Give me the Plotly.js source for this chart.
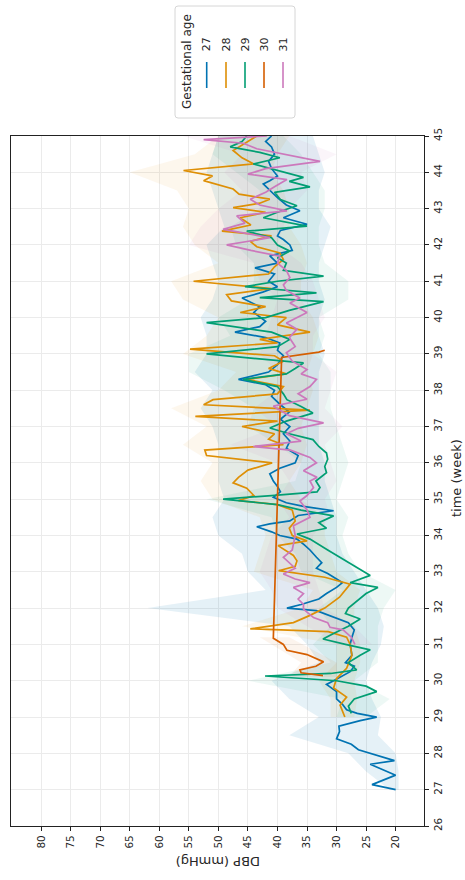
<!DOCTYPE html>
<html>
<head>
<meta charset="utf-8">
<script src="https://cdn.plot.ly/plotly-3.0.1.min.js"></script>
<style>
  html, body { margin: 0; padding: 0; background: #ffffff; }
  #chart { width: 465px; height: 880px; }
</style>
</head>
<body>
<div id="chart"></div>
<script>
// Diastolic blood pressure over time, one line per gestational age group,
// drawn sideways: time runs up the right-hand axis, DBP runs right-to-left along the bottom.

const groups = ['27', '28', '29', '30', '31'];
const colors = ['#0173b2', '#de8f05', '#029e73', '#d55e00', '#cc78bc'];

const dbpTicks = [20, 25, 30, 35, 40, 45, 50, 55, 60, 65, 70, 75, 80];
const weekTicks = [26, 27, 28, 29, 30, 31, 32, 33, 34, 35, 36, 37, 38, 39, 40, 41, 42, 43, 44, 45];

// ---- mean DBP per group ----
const week27 = [27.0,27.14,27.4,27.7,27.8,28.1,28.25,28.4,28.6,28.75,28.9,29.0,29.1,29.2,29.35,29.5,29.7,29.9,30.0,30.25,30.4,30.5,30.7,31.0,31.2,31.4,31.6,31.8,31.93,32.0,32.1,32.25,32.4,32.57,32.7,32.8,32.95,33.1,33.25,33.4,33.6,33.75,33.9,34.0,34.1,34.24,34.32,34.4,34.55,34.68,34.8,34.9,35.05,35.2,35.35,35.5,35.7,35.85,36.0,36.2,36.4,36.6,36.8,37.0,37.2,37.4,37.6,37.83,38.0,38.15,38.3,38.5,38.7,38.95,39.1,39.3,39.45,39.6,39.75,39.9,40.14,40.3,40.54,40.7,40.85,41.0,41.2,41.37,41.5,41.7,41.85,42.0,42.15,42.25,42.4,42.57,42.75,42.94,43.1,43.3,43.5,43.68,43.77,43.9,44.1,44.3,44.5,44.7,44.85,45.0];
const dbp27 = [20.0,24.0,20.0,24.3,20.2,26.3,27.5,30.0,29.5,29.6,26.0,23.2,26.5,28.3,29.0,30.0,30.0,31.7,30.5,27.7,27.0,28.5,27.4,27.7,27.4,27.0,28.0,31.1,33.4,38.4,36.0,33.0,31.7,30.0,29.0,30.0,31.5,33.4,32.5,33.4,34.5,35.5,36.7,39.6,41.0,43.5,41.3,37.9,36.5,30.5,35.6,38.5,40.7,39.5,40.0,40.7,41.3,39.6,37.0,36.5,38.5,37.9,39.0,37.9,39.5,38.0,39.5,41.0,40.5,42.0,46.6,41.5,40.0,39.0,40.0,39.6,42.0,47.2,43.0,42.0,44.0,43.0,46.0,42.5,40.0,41.5,40.5,43.8,40.0,41.3,37.5,37.9,39.0,40.0,39.5,35.0,39.0,36.2,38.5,40.0,41.3,42.4,41.3,40.0,41.0,41.5,40.5,41.0,42.0,41.0];

const week28 = [29.0,29.15,29.33,29.55,29.8,30.06,30.34,30.7,31.0,31.2,31.35,31.43,31.6,31.8,32.0,32.3,32.66,32.85,33.03,33.15,33.3,33.45,33.72,33.85,34.0,34.2,34.4,34.7,34.85,34.96,35.1,35.3,35.45,35.6,35.8,36.0,36.2,36.35,36.5,36.65,36.8,37.0,37.15,37.28,37.45,37.6,37.74,37.9,38.1,38.3,38.45,38.6,38.8,38.95,39.13,39.3,39.4,39.6,39.8,40.0,40.14,40.3,40.46,40.63,40.8,41.0,41.2,41.4,41.6,41.78,41.95,42.1,42.25,42.38,42.55,42.75,42.9,43.03,43.15,43.26,43.4,43.54,43.77,43.9,44.05,44.23,44.4,44.6,44.8,45.0];
const dbp28 = [28.6,29.0,29.4,28.3,30.5,30.0,28.3,27.4,27.7,28.3,31.4,44.6,37.3,34.5,32.0,29.5,27.7,32.0,39.8,37.0,36.7,37.3,39.9,35.0,37.5,38.0,37.0,37.5,40.0,46.6,44.0,45.2,47.5,46.6,45.0,40.9,52.0,52.3,39.0,41.5,40.5,46.0,40.0,53.9,34.5,52.5,50.9,40.0,39.0,45.2,38.5,41.5,39.0,40.5,54.8,40.0,43.0,34.5,40.0,38.5,46.3,42.0,47.8,48.6,41.0,54.2,41.5,40.5,39.0,39.6,43.5,44.6,41.0,49.4,44.5,46.3,42.0,47.5,43.0,41.3,46.5,47.5,52.5,51.0,55.9,44.0,46.0,47.5,45.5,43.5];

const week29 = [29.1,29.3,29.5,29.7,29.85,30.0,30.13,30.2,30.3,30.5,30.7,30.85,31.0,31.15,31.3,31.5,31.7,31.85,32.0,32.2,32.4,32.57,32.7,32.9,33.3,33.6,33.9,34.04,34.2,34.35,34.54,34.7,34.85,35.0,35.1,35.2,35.32,35.5,35.73,35.9,36.1,36.27,36.45,36.64,36.8,36.96,37.15,37.37,37.55,37.74,37.9,38.1,38.3,38.45,38.6,38.75,39.0,39.2,39.4,39.6,39.86,40.0,40.2,40.44,40.55,40.68,40.85,41.0,41.14,41.3,41.5,41.65,41.83,42.0,42.2,42.38,42.52,42.75,42.9,43.08,43.25,43.45,43.6,43.75,43.86,44.05,44.23,44.4,44.55,44.7,44.85,45.0];
const dbp29 = [27.5,28.0,27.0,23.2,25.0,30.0,42.1,31.0,26.6,28.0,26.0,24.3,28.5,32.3,30.5,28.0,26.0,28.5,28.0,26.5,25.0,23.0,27.7,24.3,28.5,31.5,34.5,36.7,31.7,33.0,30.5,36.0,40.0,49.2,41.0,33.3,32.8,33.5,31.7,32.0,31.5,31.7,33.0,34.0,38.0,41.3,38.5,34.0,36.0,38.4,39.0,40.0,45.8,38.5,37.0,35.6,52.0,40.0,37.9,41.0,52.0,42.0,38.0,32.2,43.0,33.4,45.5,40.0,32.2,39.0,38.5,40.0,37.9,40.0,41.0,45.2,35.0,42.4,40.0,36.7,39.5,40.5,34.5,38.0,35.6,40.0,44.1,39.6,43.0,48.0,46.0,45.2];

const week30 = [30.14,30.22,30.3,30.4,30.52,30.62,30.72,30.84,31.0,31.17,38.9,39.05,39.1];
const dbp30 = [32.3,36.0,36.2,33.5,32.2,33.5,35.0,38.4,39.0,40.7,39.3,33.0,32.0];

const week31 = [31.0,31.2,31.4,31.47,31.6,31.74,31.97,32.1,32.25,32.4,32.57,32.7,32.8,32.94,33.1,33.25,33.4,33.6,33.76,34.0,34.27,34.5,34.7,34.95,35.1,35.32,35.5,35.6,35.78,36.0,36.15,36.35,36.45,36.6,36.8,36.95,37.1,37.3,37.56,37.75,37.9,38.1,38.3,38.45,38.57,38.8,39.03,39.2,39.45,39.68,39.85,40.14,40.4,40.54,40.75,40.9,41.1,41.3,41.5,41.69,41.85,42.0,42.2,42.43,42.6,42.8,42.94,43.1,43.26,43.45,43.6,43.8,43.95,44.1,44.3,44.5,44.65,44.8,44.9,45.0];
const dbp31 = [26.9,27.5,28.9,31.1,31.5,33.9,35.6,35.6,36.5,35.6,37.3,34.5,37.0,39.0,37.0,38.0,39.0,37.5,37.3,37.0,37.3,34.5,35.0,36.2,35.0,33.9,34.5,33.3,35.6,33.4,34.5,37.8,44.1,36.0,38.5,36.5,32.2,38.0,40.7,35.0,36.5,34.5,33.4,36.0,35.0,37.5,38.5,37.0,38.0,36.7,38.5,35.0,37.9,36.2,38.5,39.0,37.9,38.5,40.0,39.6,44.5,48.6,41.3,49.2,45.5,46.9,38.4,43.0,44.6,42.0,40.5,38.4,45.0,42.0,32.8,39.0,43.5,45.8,52.5,41.8];

// ---- confidence bands (lower / upper DBP) ----
const bandWeek27 = [27,27.5,28,28.5,29,29.5,30,30.5,31,31.5,32,32.5,33,33.5,34,34.5,35,35.5,36,36.5,37,37.5,38,38.5,39,39.5,40,40.5,41,41.5,42,42.5,43,43.5,44,44.5,45];
const bandLo27 = [19.5,19.5,20,23,22.5,24,25,24,22.5,22,23,25,27,29,30,30,31,32,32,33,33,33,33,33,32,33,33,32,33,33,32,31,33,33,32,33,34];
const bandHi27 = [21,25,28,38,33,38,41,33,35,38,62,42,45,46,50,51,49,50,50,50,51,53,51,54,52,52,53,51,50,51,52,49,50,51,52,51,50];

const bandWeek28 = [29,29.5,30,30.5,31,31.5,32,32.5,33,33.5,34,34.5,35,35.5,36,36.5,37,37.5,38,38.5,39,39.5,40,40.5,41,41.5,42,42.5,43,43.5,44,44.5,45];
const bandLo28 = [27,26.5,27,26,26,27,27,26,30,31,32,32,36,38,36,35,36,35,34,35,34,33,34,36,36,35,36,38,38,39,41,40,38];
const bandHi28 = [31,31,33,30,30,46,36,34,44,43,42,43,51,53,51,56,52,58,50,47,56,52,50,56,58,50,54,56,55,57,65,54,50];

const bandWeek29 = [29,29.5,30,30.5,31,31.5,32,32.5,33,33.5,34,34.5,35,35.5,36,36.5,37,37.5,38,38.5,39,39.5,40,40.5,41,41.5,42,42.5,43,43.5,44,44.5,45];
const bandLo29 = [25,21,27,23,23,23,22,20,26,28,29,28,30,29,28,29,30,31,31,31,33,32,33,28,28,32,33,33,32,32,34,36,39];
const bandHi29 = [30,29,45,31,34,31,33,29,36,37,40,41,52,37,36,40,45,44,49,55,55,48,50,45,44,44,47,48,43,43,47,51,50];

const bandWeek30 = [30.1,30.5,31.2];
const bandLo30 = [30,30,38];
const bandHi30 = [38,36,43];

const bandWeek31 = [31,31.5,32,32.5,33,33.5,34,34.5,35,35.5,36,36.5,37,37.5,38,38.5,39,39.5,40,40.5,41,41.5,42,42.5,43,43.5,44,44.5,45];
const bandLo31 = [24,27,32,33,34,34,34,31,32,30,31,32,29,32,31,30,34,34,32,33,34,36,40,39,38,35,36,30,38];
const bandHi31 = [30,35,40,41,43,42,41,38,40,38,40,48,40,44,40,40,43,42,41,40,43,44,55,53,50,46,49,46,56];

const lines = [[week27, dbp27], [week28, dbp28], [week29, dbp29], [week30, dbp30], [week31, dbp31]];
const bands = [
  [bandWeek27, bandLo27, bandHi27],
  [bandWeek28, bandLo28, bandHi28],
  [bandWeek29, bandLo29, bandHi29],
  [bandWeek30, bandLo30, bandHi30],
  [bandWeek31, bandLo31, bandHi31]
];
const bandAlpha = [0.1, 0.07, 0.07, 0.07, 0.07];

function rgba(hex, a) {
  const n = parseInt(hex.slice(1), 16);
  return 'rgba(' + ((n >> 16) & 255) + ',' + ((n >> 8) & 255) + ',' + (n & 255) + ',' + a + ')';
}

const traces = [];
bands.forEach((b, i) => {
  const [wk, lo, hi] = b;
  traces.push({
    type: 'scatter', mode: 'lines',
    x: lo.concat(hi.slice().reverse()),
    y: wk.concat(wk.slice().reverse()),
    fill: 'toself', fillcolor: rgba(colors[i], bandAlpha[i]),
    line: { width: 0 }, hoverinfo: 'skip', showlegend: false
  });
});
lines.forEach((l, i) => {
  traces.push({
    type: 'scatter', mode: 'lines', name: groups[i],
    x: l[1], y: l[0],
    line: { color: colors[i], width: 1.7 },
    showlegend: false
  });
});

// plot frame in page pixels
const PAGE_W = 465, PAGE_H = 880;
const L = 11, R = 424, T = 136, B = 826;
const fx = v => (v - L) / (R - L);
const fy = v => (B - v) / (B - T);

const FONT = 'DejaVu Sans, Liberation Sans, sans-serif';
const TXT = '#262626';

// legend box with rounded corners
const bx0 = 175, bx1 = 295, by0 = 6, by1 = 118, rad = 3;
const rx = rad / (R - L), ry = rad / (B - T);
const X0 = fx(bx0), X1 = fx(bx1), Y0 = fy(by0), Y1 = fy(by1);
const boxPath = 'M' + (X0 + rx) + ',' + Y0 +
  ' L' + (X1 - rx) + ',' + Y0 + ' Q' + X1 + ',' + Y0 + ' ' + X1 + ',' + (Y0 - ry) +
  ' L' + X1 + ',' + (Y1 + ry) + ' Q' + X1 + ',' + Y1 + ' ' + (X1 - rx) + ',' + Y1 +
  ' L' + (X0 + rx) + ',' + Y1 + ' Q' + X0 + ',' + Y1 + ' ' + X0 + ',' + (Y1 + ry) +
  ' L' + X0 + ',' + (Y0 - ry) + ' Q' + X0 + ',' + Y0 + ' ' + (X0 + rx) + ',' + Y0 + ' Z';

const shapes = [{
  type: 'path', xref: 'paper', yref: 'paper', path: boxPath,
  fillcolor: 'rgba(255,255,255,0.9)', line: { color: '#d6d6d6', width: 1 }
}];
const annotations = [];
const entryX = [206.7, 226, 245, 264, 283];
groups.forEach((g, i) => {
  shapes.push({
    type: 'line', xref: 'paper', yref: 'paper',
    x0: fx(entryX[i]), x1: fx(entryX[i]), y0: fy(62), y1: fy(88),
    line: { color: colors[i], width: 1.6 }
  });
  annotations.push({
    xref: 'paper', yref: 'paper', x: fx(entryX[i]), y: fy(44.5),
    text: g, showarrow: false, textangle: -90,
    xanchor: 'center', yanchor: 'middle',
    font: { family: FONT, size: 11, color: TXT }
  });
});
annotations.push({
  xref: 'paper', yref: 'paper', x: fx(187), y: fy(62),
  text: 'Gestational age', showarrow: false, textangle: -90,
  xanchor: 'center', yanchor: 'middle',
  font: { family: FONT, size: 12, color: TXT }
});
// axis titles
annotations.push({
  xref: 'paper', yref: 'paper', x: fx(218), y: fy(862),
  text: 'DBP (mmHg)', showarrow: false, textangle: 180,
  xanchor: 'center', yanchor: 'middle',
  font: { family: FONT, size: 13, color: TXT }
});
annotations.push({
  xref: 'paper', yref: 'paper', x: fx(456), y: fy(478),
  text: 'time (week)', showarrow: false, textangle: -90,
  xanchor: 'center', yanchor: 'middle',
  font: { family: FONT, size: 13, color: TXT }
});

const axisCommon = {
  ticks: 'outside', ticklen: 4, tickwidth: 1, tickcolor: '#222',
  showgrid: true, gridcolor: '#ebebeb', gridwidth: 1,
  showline: true, linecolor: '#222', linewidth: 1, mirror: true,
  zeroline: false, tickangle: -90,
  tickfont: { family: FONT, size: 10.5, color: TXT }
};

const layout = {
  width: PAGE_W, height: PAGE_H,
  margin: { l: L, r: PAGE_W - R, t: T, b: PAGE_H - B, pad: 0 },
  paper_bgcolor: '#ffffff', plot_bgcolor: '#ffffff',
  showlegend: false,
  xaxis: Object.assign({}, axisCommon, {
    range: [85.1, 15.2], tickmode: 'array', tickvals: dbpTicks,
    ticktext: dbpTicks.map(String)
  }),
  yaxis: Object.assign({}, axisCommon, {
    range: [26, 45], side: 'right', tickmode: 'array', tickvals: weekTicks,
    ticktext: weekTicks.map(String)
  }),
  shapes: shapes,
  annotations: annotations
};

Plotly.newPlot('chart', traces, layout, { staticPlot: true, displayModeBar: false });
</script>
</body>
</html>
